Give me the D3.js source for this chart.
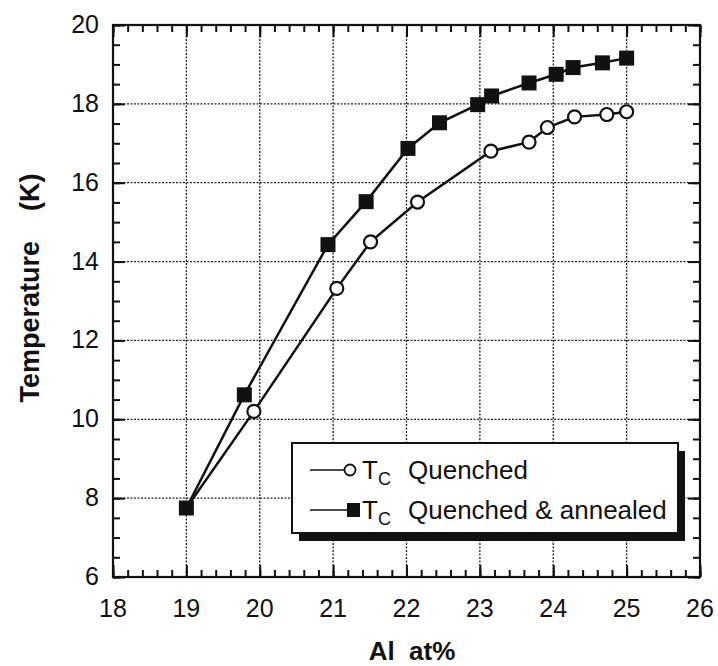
<!DOCTYPE html>
<html>
<head>
<meta charset="utf-8">
<script src="https://d3js.org/d3.v7.min.js"></script>
<style>
  body { margin: 0; background: #fff; }
  text { font-family: "Liberation Sans", Arial, sans-serif; fill: #111; }
</style>
</head>
<body>
<svg id="chart" width="718" height="666"></svg>
<script>
// Tc vs Al content, quenched samples
var alQuenched = [19.0, 19.92, 21.05, 21.51, 22.15, 23.15, 23.67, 23.92, 24.29, 24.73, 25.0];
var tcQuenched = [7.75, 10.2, 13.32, 14.5, 15.51, 16.8, 17.03, 17.4, 17.67, 17.73, 17.8];

// Tc vs Al content, quenched and annealed samples
var alAnnealed = [19.0, 19.79, 20.93, 21.45, 22.02, 22.45, 22.97, 23.16, 23.67, 24.04, 24.27, 24.67, 25.0];
var tcAnnealed = [7.75, 10.62, 14.43, 15.52, 16.87, 17.52, 17.98, 18.2, 18.53, 18.75, 18.92, 19.04, 19.16];

var xTicks = [18, 19, 20, 21, 22, 23, 24, 25, 26];
var yTicks = [6, 8, 10, 12, 14, 16, 18, 20];
var legendLabels = ["Quenched", "Quenched & annealed"];

var svg = d3.select("#chart");
var pL = 113, pR = 700, pT = 25, pB = 577;

var x = d3.scaleLinear().domain([18, 26]).range([pL, pR]);
var y = d3.scaleLinear().domain([6, 20]).range([pB, pT]);

// dotted grid at the major ticks
var grid = svg.append("g").attr("stroke", "#222").attr("stroke-width", 1.3)
  .attr("stroke-dasharray", "2,1.5");
grid.selectAll(".gx").data(xTicks.slice(1, -1)).enter().append("line")
  .attr("x1", d => x(d)).attr("x2", d => x(d)).attr("y1", pT).attr("y2", pB);
grid.selectAll(".gy").data(yTicks.slice(1, -1)).enter().append("line")
  .attr("y1", d => y(d)).attr("y2", d => y(d)).attr("x1", pL).attr("x2", pR);

// inward ticks on all four sides
function addTicks(axis, scale, vals, size, pos) {
  var g = svg.append("g").attr("transform", pos);
  g.call(axis(scale).tickValues(vals).tickSize(size).tickFormat(""));
  g.select(".domain").remove();
  g.selectAll("line").attr("stroke", "#111").attr("stroke-width", 2);
}
var xMinor = d3.range(18, 26.001, 0.2).map(v => +v.toFixed(1));
var yMinor = d3.range(6, 20.001, 0.5);
addTicks(d3.axisTop, x, xMinor, 7, "translate(0," + pB + ")");
addTicks(d3.axisTop, x, xTicks, 12, "translate(0," + pB + ")");
addTicks(d3.axisBottom, x, xMinor, 7, "translate(0," + pT + ")");
addTicks(d3.axisBottom, x, xTicks, 12, "translate(0," + pT + ")");
addTicks(d3.axisRight, y, yMinor, 7, "translate(" + pL + ",0)");
addTicks(d3.axisRight, y, yTicks, 12, "translate(" + pL + ",0)");
addTicks(d3.axisLeft, y, yMinor, 7, "translate(" + pR + ",0)");
addTicks(d3.axisLeft, y, yTicks, 12, "translate(" + pR + ",0)");

// frame
svg.append("rect").attr("x", pL).attr("y", pT)
  .attr("width", pR - pL).attr("height", pB - pT)
  .attr("fill", "none").attr("stroke", "#111").attr("stroke-width", 2.2);

// tick labels
svg.selectAll(".xl").data(xTicks).enter().append("text")
  .attr("x", d => x(d)).attr("y", pB + 40)
  .attr("text-anchor", "middle").attr("font-size", 25).text(d => d);
svg.selectAll(".yl").data(yTicks).enter().append("text")
  .attr("x", pL - 14).attr("y", d => y(d) + 8)
  .attr("text-anchor", "end").attr("font-size", 25).text(d => d);

// axis titles
svg.append("text").attr("x", 412).attr("y", 660)
  .attr("text-anchor", "middle").attr("font-size", 26).attr("font-weight", "bold")
  .attr("xml:space", "preserve").text("Al  at%");
svg.append("text").attr("transform", "translate(39,288) rotate(-90)")
  .attr("text-anchor", "middle").attr("font-size", 27).attr("font-weight", "bold")
  .attr("xml:space", "preserve").text("Temperature    (K)");

var line = d3.line().x(d => x(d[0])).y(d => y(d[1]));
var ptsQ = alQuenched.map((a, i) => [a, tcQuenched[i]]);
var ptsA = alAnnealed.map((a, i) => [a, tcAnnealed[i]]);

svg.append("path").datum(ptsQ).attr("d", line)
  .attr("fill", "none").attr("stroke", "#111").attr("stroke-width", 2.5);
svg.append("path").datum(ptsA).attr("d", line)
  .attr("fill", "none").attr("stroke", "#111").attr("stroke-width", 2.5);

svg.selectAll(".sq").data(ptsA).enter().append("rect")
  .attr("x", d => x(d[0]) - 7.5).attr("y", d => y(d[1]) - 7.5)
  .attr("width", 15).attr("height", 15).attr("fill", "#111");
svg.selectAll(".ci").data(ptsQ.slice(1)).enter().append("circle")
  .attr("cx", d => x(d[0])).attr("cy", d => y(d[1])).attr("r", 6.5)
  .attr("fill", "#fff").attr("stroke", "#111").attr("stroke-width", 2.2);

// legend with drop shadow
var lg = svg.append("g").attr("transform", "translate(292,443)");
var lw = 386, lh = 90;
lg.append("rect").attr("x", 7).attr("y", 8).attr("width", lw).attr("height", lh).attr("fill", "#111");
lg.append("rect").attr("width", lw).attr("height", lh)
  .attr("fill", "#fff").attr("stroke", "#111").attr("stroke-width", 2);

legendLabels.forEach(function (lab, i) {
  var ry = 27 + i * 40;
  lg.append("line").attr("x1", 18).attr("x2", i ? 58 : 53).attr("y1", ry).attr("y2", ry)
    .attr("stroke", "#111").attr("stroke-width", 1.6);
  if (i === 0) {
    lg.append("circle").attr("cx", 58).attr("cy", ry).attr("r", 5.5)
      .attr("fill", "#fff").attr("stroke", "#111").attr("stroke-width", 1.8);
  } else {
    lg.append("rect").attr("x", 55).attr("y", ry - 7).attr("width", 13).attr("height", 14).attr("fill", "#111");
  }
  var t = lg.append("text").attr("x", 70).attr("y", ry + 9).attr("font-size", 26);
  t.append("tspan").text("T");
  t.append("tspan").attr("font-size", 18).attr("dy", 6).text("C");
  lg.append("text").attr("x", 116).attr("y", ry + 9).attr("font-size", 26).text(lab);
});
</script>
</body>
</html>
